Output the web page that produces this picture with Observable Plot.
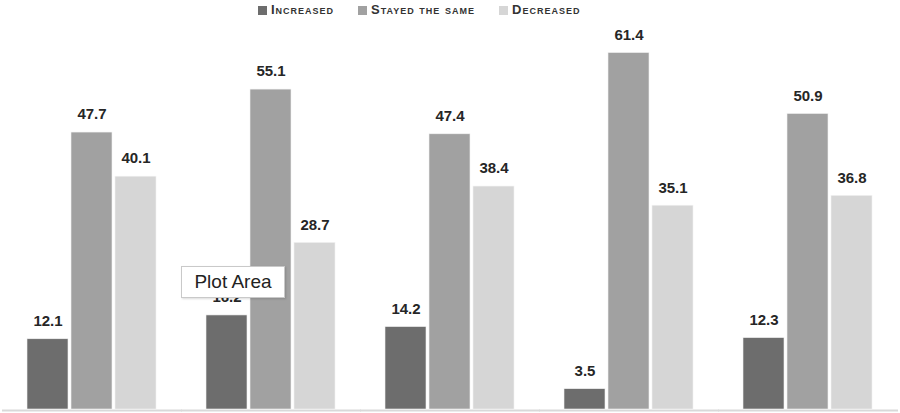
<!DOCTYPE html>
<html>
<head>
<meta charset="utf-8">
<script src="https://cdn.jsdelivr.net/npm/d3@7"></script>
<script src="https://cdn.jsdelivr.net/npm/@observablehq/plot@0.6"></script>
<style>
  html, body { margin: 0; padding: 0; background: #fff; }
  body { width: 900px; height: 413px; position: relative; overflow: hidden; font-family: "Liberation Sans", Arial, sans-serif; }
  #legend { height: 20px; position: relative; }
  .item { position: absolute; top: 2px; font-weight: bold; font-variant: small-caps; font-size: 13px; letter-spacing: 1px; color: #333; line-height: 15px; white-space: nowrap; }
  .sw { display: inline-block; width: 9px; height: 9px; margin-right: 4px; vertical-align: -1px; }
  #tip { position: absolute; left: 181px; top: 266px; width: 104px; height: 32px; box-sizing: border-box; border: 1px solid #c9c9c9; background: #fff; box-shadow: 1px 1px 2px rgba(0,0,0,0.15); font-size: 19px; color: #222; line-height: 30px; text-align: center; }
</style>
</head>
<body>
<div id="legend"></div>
<div id="chart"></div>
<div id="tip">Plot Area</div>
<script>
const groups = ["1", "2", "3", "4", "5"];
const series = ["Increased", "Stayed the same", "Decreased"];
const increased = [12.1, 16.2, 14.2, 3.5, 12.3];
const stayedSame = [47.7, 55.1, 47.4, 61.4, 50.9];
const decreased = [40.1, 28.7, 38.4, 35.1, 36.8];
const colors = ["#6d6d6d", "#a1a1a1", "#d6d6d6"];

const values = [increased, stayedSame, decreased];
const data = [];
groups.forEach((g, i) => series.forEach((s, j) => data.push({group: g, series: s, value: values[j][i]})));

// legend
const legendX = [258, 358, 499];
const legend = document.getElementById("legend");
series.forEach((s, j) => {
  const it = document.createElement("div");
  it.className = "item";
  it.style.left = legendX[j] + "px";
  it.innerHTML = `<span class="sw" style="background:${colors[j]}"></span>${s}`;
  legend.appendChild(it);
});

const chart = Plot.plot({
  width: 900,
  height: 393,
  marginTop: 0,
  marginBottom: 4,
  marginLeft: 26,
  marginRight: 25,
  fx: {domain: groups, paddingInner: 0.262, paddingOuter: 0, axis: null, label: null},
  x: {domain: series, paddingInner: 0.06, paddingOuter: 0, axis: null},
  y: {domain: [0, 67], axis: null},
  color: {domain: series, range: colors},
  marks: [
    Plot.ruleY([0], {stroke: "#d9d9d9", strokeWidth: 2, dy: 1, insetLeft: -24, insetRight: -24}),
    Plot.barY(data, {fx: "group", x: "series", y: "value", fill: "series", stroke: "#f2f2f2", strokeWidth: 0.6}),
    Plot.text(data, {fx: "group", x: "series", y: "value", text: d => d.value.toFixed(1), dy: -18, fontSize: 15, fontWeight: "bold", fill: "#262626", fontFamily: "Liberation Sans, Arial, sans-serif"})
  ]
});
document.getElementById("chart").appendChild(chart);
</script>
</body>
</html>
